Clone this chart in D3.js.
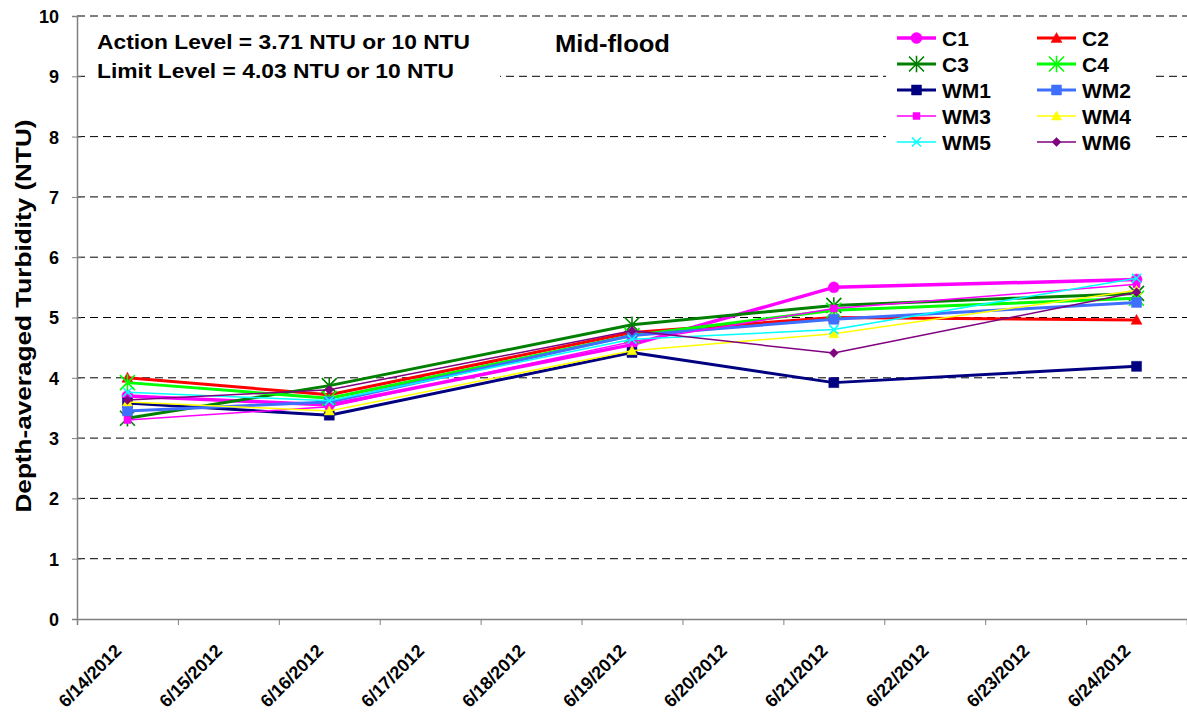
<!DOCTYPE html>
<html><head><meta charset="utf-8">
<script src="https://cdn.jsdelivr.net/npm/d3@7"></script>
<style>body{margin:0;background:#fff;} svg{display:block;font-family:"Liberation Sans",Arial,sans-serif;}</style>
</head><body>
<svg id="c" width="1187" height="716"></svg>
<script>
const dates = ["2012-06-14T12:00","2012-06-16T12:00","2012-06-19T12:00","2012-06-21T12:00","2012-06-24T12:00"];
const seriesNames = ["C1","C2","C3","C4","WM1","WM2","WM3","WM4","WM5","WM6"];
const C1  = [3.70, 3.55, 4.55, 5.50, 5.63];
const C2  = [4.00, 3.72, 4.75, 5.00, 4.96];
const C3  = [3.33, 3.87, 4.88, 5.20, 5.40];
const C4  = [3.92, 3.66, 4.70, 5.12, 5.32];
const WM1 = [3.58, 3.38, 4.42, 3.92, 4.19];
const WM2 = [3.45, 3.60, 4.70, 4.97, 5.25];
const WM3 = [3.30, 3.52, 4.60, 5.15, 5.55];
const WM4 = [3.60, 3.45, 4.45, 4.73, 5.45];
const WM5 = [3.76, 3.62, 4.64, 4.80, 5.65];
const WM6 = [3.63, 3.80, 4.78, 4.41, 5.42];
const yTicks = [0,1,2,3,4,5,6,7,8,9,10];
const xTickLabels = ["6/14/2012","6/15/2012","6/16/2012","6/17/2012","6/18/2012","6/19/2012","6/20/2012","6/21/2012","6/22/2012","6/23/2012","6/24/2012"];
const title = "Mid-flood";
const yLabel = "Depth-averaged Turbidity (NTU)";
const notes = ["Action Level = 3.71 NTU or 10 NTU","Limit Level = 4.03 NTU or 10 NTU"];

const values = {C1,C2,C3,C4,WM1,WM2,WM3,WM4,WM5,WM6};
const styles = {
  C1:{color:"#FF00FF",w:3.5,m:"circle",s:11},
  C2:{color:"#FF0000",w:3,m:"triangle",s:11},
  C3:{color:"#008000",w:3,m:"star",s:15},
  C4:{color:"#00FF00",w:3,m:"star",s:15},
  WM1:{color:"#000080",w:3,m:"square",s:10},
  WM2:{color:"#3F6FFF",w:3,m:"square",s:10},
  WM3:{color:"#FF00FF",w:1.5,m:"square",s:7},
  WM4:{color:"#FFFF00",w:1.5,m:"triangle",s:10},
  WM5:{color:"#00FFFF",w:1.5,m:"x",s:9},
  WM6:{color:"#800080",w:1.5,m:"diamond",s:9}
};

const svg = d3.select("#c");
const parse = d3.timeParse("%Y-%m-%dT%H:%M");
const day0 = new Date(2012,5,14), day1 = new Date(2012,5,25);
const x = d3.scaleTime().domain([day0, day1]).range([77, 1187]);
const y = d3.scaleLinear().domain([0,10]).range([619, 16]);

// gridlines
svg.append("g").selectAll("line").data(yTicks.filter(d=>d>0)).join("line")
  .attr("x1",77).attr("x2",1187).attr("y1",d=>y(d)).attr("y2",d=>y(d))
  .attr("stroke","#000").attr("stroke-width",1).attr("stroke-dasharray","8,5");

// white boxes covering gridlines (note box and legend)
svg.append("rect").attr("x",88).attr("y",26).attr("width",412).attr("height",62).attr("fill","#fff");
svg.append("rect").attr("x",886).attr("y",26).attr("width",266).attr("height",130).attr("fill","#fff");

// axes
const yAxis = d3.axisLeft(y).tickValues(yTicks).tickSize(5).tickFormat(d3.format("d"));
const gy = svg.append("g").attr("transform","translate(77,0)").call(yAxis);
gy.select(".domain").attr("stroke","#808080").attr("stroke-width",1.5);
gy.selectAll(".tick line").attr("stroke","#808080").attr("x2",4).attr("x1",-5);
gy.selectAll(".tick text").attr("x",-18).attr("dy","0.36em").attr("font-size",18).attr("font-weight","bold").attr("fill","#000");

const xTickDates = d3.timeDay.range(day0, new Date(2012,5,25,1));
const xAxis = d3.axisBottom(x).tickValues(xTickDates).tickSize(6).tickFormat((d,i)=> i < xTickLabels.length ? xTickLabels[i] : "");
const gx = svg.append("g").attr("transform","translate(0,619)").call(xAxis);
gx.select(".domain").attr("stroke","#808080").attr("stroke-width",1.5);
gx.selectAll(".tick line").attr("stroke","#808080");
gx.selectAll(".tick text").attr("font-size",18).attr("font-weight","bold").attr("fill","#000")
  .attr("text-anchor","end").attr("y",0).attr("dy",0).attr("transform","translate(45,33) rotate(-45)");

// marker path
function markerPath(type, s){
  const h = s/2;
  switch(type){
    case "circle": return d3.symbol(d3.symbolCircle, Math.PI*h*h)();
    case "square": return `M${-h},${-h}H${h}V${h}H${-h}Z`;
    case "triangle": return `M0,${-h}L${h},${h*0.8}L${-h},${h*0.8}Z`;
    case "diamond": return `M0,${-h}L${h},0L0,${h}L${-h},0Z`;
    case "x": return `M${-h},${-h}L${h},${h}M${h},${-h}L${-h},${h}`;
    case "star": return `M${-h},${-h}L${h},${h}M${h},${-h}L${-h},${h}M0,${-h*1.1}V${h*1.1}`;
  }
}
function drawMarker(g, type, s, color, cx, cy){
  const open = (type==="x"||type==="star");
  g.append("path").attr("d",markerPath(type,s)).attr("transform",`translate(${cx},${cy})`)
    .attr("fill",open?"none":color).attr("stroke",color).attr("stroke-width",open?1.6:0.5);
}

const line = d3.line().x(d=>x(parse(d.date))).y(d=>y(d.v));
seriesNames.forEach(name=>{
  const st = styles[name];
  const pts = dates.map((d,i)=>({date:d, v:values[name][i]}));
  const g = svg.append("g");
  g.append("path").datum(pts).attr("d",line).attr("fill","none").attr("stroke",st.color).attr("stroke-width",st.w).attr("stroke-linejoin","round");
  pts.forEach(p=>drawMarker(g, st.m, st.s, st.color, x(parse(p.date)), y(p.v)));
});

// legend
seriesNames.forEach((name,i)=>{
  const st = styles[name];
  const col = i%2, row = Math.floor(i/2);
  const lx = col===0 ? 897 : 1037;
  const ly = 38 + row*26;
  const g = svg.append("g");
  g.append("line").attr("x1",lx).attr("x2",lx+39).attr("y1",ly).attr("y2",ly).attr("stroke",st.color).attr("stroke-width",st.w);
  drawMarker(g, st.m, st.s, st.color, lx+19.5, ly);
  g.append("text").attr("x",lx+45).attr("y",ly).attr("dy","0.36em").attr("font-size",21).attr("font-weight","bold").text(name);
});

// notes & title
const noteLens = [373, 357];
notes.forEach((t,i)=>{
  svg.append("text").attr("x",97).attr("y",49+i*29).attr("font-size",20.5).attr("font-weight","bold")
    .attr("textLength",noteLens[i]).attr("lengthAdjust","spacingAndGlyphs").text(t);
});
svg.append("text").attr("x",555).attr("y",52).attr("font-size",23).attr("font-weight","bold")
  .attr("textLength",115).attr("lengthAdjust","spacingAndGlyphs").text(title);

// y label
svg.append("text").attr("transform","translate(31,316) rotate(-90)").attr("text-anchor","middle")
  .attr("font-size",22).attr("font-weight","bold").attr("textLength",393).attr("lengthAdjust","spacingAndGlyphs").text(yLabel);
</script>
</body></html>
